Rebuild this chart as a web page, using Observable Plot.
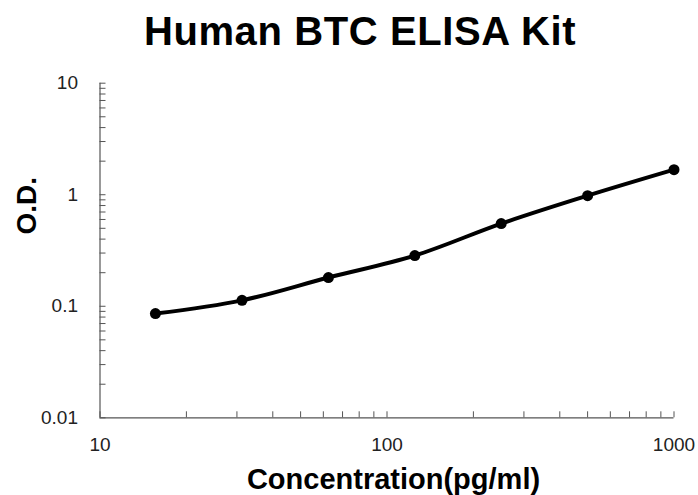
<!DOCTYPE html>
<html><head><meta charset="utf-8">
<script src="https://cdn.jsdelivr.net/npm/d3@7"></script>
<script src="https://cdn.jsdelivr.net/npm/@observablehq/plot@0.6"></script>
<style>
body{margin:0;background:#fff;width:698px;height:495px;overflow:hidden;font-family:"Liberation Sans",Arial,sans-serif;}
#wrap{position:relative;width:698px;height:495px;}
#title{position:absolute;left:0;width:698px;top:11px;height:44px;text-align:center;font-size:40px;line-height:40px;font-weight:bold;letter-spacing:0.6px;padding-left:22px;box-sizing:border-box;color:#000;white-space:nowrap}
#chart{position:absolute;top:60px;left:0}
</style></head><body>
<div id="wrap"><div id="title">Human BTC ELISA Kit</div><div id="chart"></div></div>
<script>
const concentration = [15.6, 31.25, 62.5, 125, 250, 500, 1000];
const od = [0.086, 0.113, 0.181, 0.285, 0.551, 0.981, 1.677];
const xMajorTicks = [10, 100, 1000];
const xMinorTicks = [10, 20, 30, 40, 50, 60, 70, 80, 90, 100, 200, 300, 400, 500, 600, 700, 800, 900, 1000];
const yMajorTicks = [0.01, 0.1, 1, 10];
const yMinorTicks = [0.01, 0.02, 0.03, 0.04, 0.05, 0.06, 0.07, 0.08, 0.09, 0.1, 0.2, 0.3, 0.4, 0.5, 0.6, 0.7, 0.8, 0.9, 1, 2, 3, 4, 5, 6, 7, 8, 9, 10];
const xTitle = "Concentration(pg/ml)";
const yTitle = "O.D.";

const data = concentration.map((c, i) => ({c, od: od[i]}));
const axisColor = "#555";

const chart = Plot.plot({
  width: 698,
  height: 435,
  marginTop: 22.7,
  marginBottom: 77.7,
  marginLeft: 99.5,
  marginRight: 24.5,
  style: {fontFamily: "'Liberation Sans', Arial, sans-serif", fontSize: "19px", color: "#222", background: "white", overflow: "visible"},
  x: {type: "log", domain: [10, 1000]},
  y: {type: "log", domain: [0.01, 10]},
  marks: [
    Plot.ruleX([10], {stroke: axisColor, strokeWidth: 1.2}),
    Plot.ruleY([0.01], {stroke: axisColor, strokeWidth: 1.2}),
    Plot.axisX({ticks: xMinorTicks, tickSize: -6, tickFormat: () => "", label: null, stroke: axisColor}),
    Plot.axisX({ticks: xMajorTicks, tickSize: 0, tickPadding: 20, tickFormat: d => String(d), label: null, fill: "#222", fontSize: 19}),
    Plot.axisY({ticks: yMinorTicks, tickSize: -6, tickFormat: () => "", label: null, stroke: axisColor}),
    Plot.axisY({ticks: yMajorTicks, tickSize: 0, tickPadding: 22, tickFormat: d => String(d), label: null, fill: "#222", fontSize: 19}),
    Plot.line(data, {x: "c", y: "od", curve: "catmull-rom", stroke: "black", strokeWidth: 4}),
    Plot.dot(data, {x: "c", y: "od", r: 5.5, fill: "black"}),
    Plot.text([xTitle], {text: d => d, frameAnchor: "bottom", lineAnchor: "bottom", dy: 70.7, dx: 6.5, fontSize: 29, fontWeight: "bold", fill: "black", style: {letterSpacing: "0.6px"}}),
    Plot.text([yTitle], {text: d => d, frameAnchor: "left", rotate: -90, dx: -72.5, dy: -16, fontSize: 28, fontWeight: "bold", fill: "black"})
  ]
});
document.getElementById("chart").appendChild(chart);
</script>
</body></html>
